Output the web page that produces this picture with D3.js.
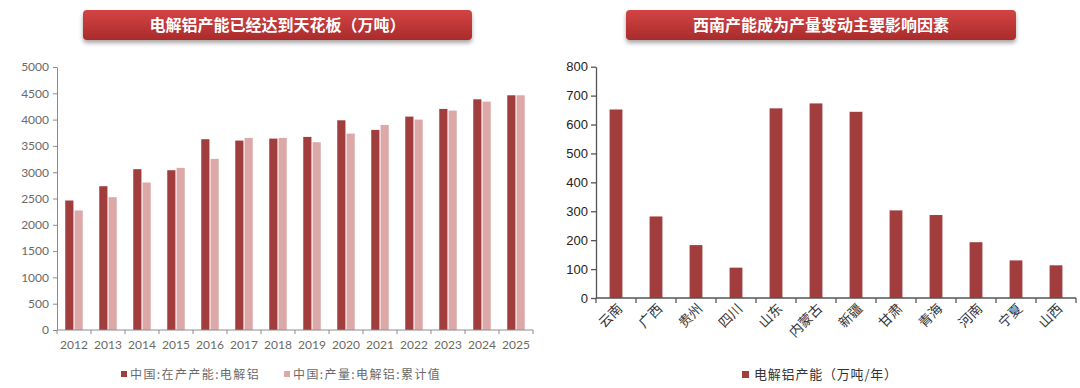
<!DOCTYPE html>
<html>
<head>
<meta charset="utf-8">
<script src="https://cdn.jsdelivr.net/npm/d3@7"></script>
<style>
  body { margin: 0; background: #fff; }
  svg { display: block; }
</style>
</head>
<body>
<div id="chart"></div>
<script>
// left chart data (万吨)
var years = ["2012","2013","2014","2015","2016","2017","2018","2019","2020","2021","2022","2023","2024","2025"];
var capacity = [2462, 2734, 3057, 3038, 3627, 3601, 3639, 3671, 3987, 3804, 4057, 4203, 4386, 4462];
var output   = [2272, 2525, 2804, 3082, 3253, 3652, 3652, 3570, 3734, 3899, 4000, 4171, 4342, 4462];
var leftTicks = [0, 500, 1000, 1500, 2000, 2500, 3000, 3500, 4000, 4500, 5000];
var leftSeries = ["中国:在产产能:电解铝", "中国:产量:电解铝:累计值"];

// right chart data (万吨/年)
var provinces = ["云南","广西","贵州","四川","山东","内蒙古","新疆","甘肃","青海","河南","宁夏","山西"];
var provCap = [652, 282, 183, 105, 656, 673, 644, 303, 287, 193, 130, 113];
var rightTicks = [0, 100, 200, 300, 400, 500, 600, 700, 800];
var rightSeries = "电解铝产能（万吨/年）";

var titles = ["电解铝产能已经达到天花板（万吨）", "西南产能成为产量变动主要影响因素"];

var dark = "#a23d3d", light = "#dca8a8";
var cjk = "'Noto Sans CJK SC', sans-serif";

var svg = d3.select("#chart").append("svg")
    .attr("width", 1080)
    .attr("height", 388);

var defs = svg.append("defs");
var grad = defs.append("linearGradient")
    .attr("id", "bannerGrad")
    .attr("x1", 0).attr("y1", 0).attr("x2", 0).attr("y2", 1);
grad.append("stop").attr("offset", "0%").attr("stop-color", "#d44444");
grad.append("stop").attr("offset", "100%").attr("stop-color", "#a92b2b");
var shadow = defs.append("filter").attr("id", "shadow")
    .attr("x", "-5%").attr("y", "-20%").attr("width", "110%").attr("height", "160%");
shadow.append("feDropShadow")
    .attr("dx", 0).attr("dy", 3).attr("stdDeviation", 2)
    .attr("flood-color", "#000").attr("flood-opacity", 0.35);

// title banners
var banners = [{x: 83, w: 389, t: titles[0]}, {x: 626, w: 390, t: titles[1]}];
banners.forEach(function(b) {
  svg.append("rect")
      .attr("x", b.x).attr("y", 10)
      .attr("width", b.w).attr("height", 30)
      .attr("rx", 4)
      .attr("fill", "url(#bannerGrad)")
      .attr("filter", "url(#shadow)");
  svg.append("text")
      .attr("x", b.x + b.w / 2).attr("y", 25)
      .attr("dy", "0.35em")
      .attr("text-anchor", "middle")
      .style("font-family", cjk)
      .style("font-size", "16px")
      .style("font-weight", "bold")
      .style("fill", "#fff")
      .text(b.t);
});

/////////////// left chart
var x = d3.scaleBand()
    .domain(years)
    .range([57, 533])
    .paddingInner(0.485)
    .paddingOuter(0.2425);

var xs = d3.scaleBand()
    .domain([0, 1])
    .range([0, x.bandwidth()])
    .paddingInner(0.12);

var y = d3.scaleLinear()
    .domain([0, 5000])
    .range([330, 67]);

var gL = svg.append("g");

var yAxisL = d3.axisLeft(y).tickValues(leftTicks).tickFormat(d3.format("d"))
    .tickSize(4).tickSizeOuter(0);
gL.append("g")
    .attr("transform", "translate(57,0)")
    .call(yAxisL)
    .call(function(g) {
      g.select(".domain").attr("stroke", "#8c8c8c");
      g.selectAll(".tick line").attr("stroke", "#8c8c8c");
      g.selectAll("text")
          .attr("x", -8)
          .style("font-family", "Lato, sans-serif")
          .style("font-size", "12px")
          .style("fill", "#6a6a6a");
    });

var cols = years.map(function(d, i) { return {year: d, vals: [capacity[i], output[i]]}; });

var grp = gL.selectAll(".yr")
    .data(cols)
  .enter().append("g")
    .attr("class", "yr")
    .attr("transform", function(d) { return "translate(" + x(d.year) + ",0)"; });

grp.selectAll("rect")
    .data(function(d) { return d.vals; })
  .enter().append("rect")
    .attr("x", function(d, i) { return xs(i); })
    .attr("y", function(d) { return y(d); })
    .attr("width", xs.bandwidth())
    .attr("height", function(d) { return y(0) - y(d); })
    .style("fill", function(d, i) { return i === 0 ? dark : light; });

// x axis line, boundary ticks, labels
var stepL = x.step();
var x0L = x.range()[0];
gL.append("line")
    .attr("x1", x0L).attr("x2", x.range()[1])
    .attr("y1", y(0)).attr("y2", y(0))
    .style("stroke", "#8c8c8c");
gL.selectAll(".xtick")
    .data(d3.range(years.length + 1))
  .enter().append("line")
    .attr("x1", function(i) { return x0L + i * stepL; })
    .attr("x2", function(i) { return x0L + i * stepL; })
    .attr("y1", y(0)).attr("y2", y(0) + 4)
    .style("stroke", "#8c8c8c");
gL.selectAll(".xlab")
    .data(years)
  .enter().append("text")
    .attr("x", function(d, i) { return x0L + (i + 0.5) * stepL; })
    .attr("y", 349)
    .attr("text-anchor", "middle")
    .style("font-family", "Lato, sans-serif")
    .style("font-size", "12px")
    .style("fill", "#6a6a6a")
    .text(function(d) { return d; });

// left legend
var legL = [{x: 121, c: dark, t: leftSeries[0]}, {x: 284, c: light, t: leftSeries[1]}];
legL.forEach(function(l) {
  gL.append("rect")
      .attr("x", l.x).attr("y", 371)
      .attr("width", 6).attr("height", 6)
      .style("fill", l.c);
  gL.append("text")
      .attr("x", l.x + 9).attr("y", 378.5)
      .style("font-family", cjk)
      .style("font-size", "12px")
      .style("letter-spacing", "1.4px")
      .style("fill", "#6a6a6a")
      .text(l.t);
});

/////////////// right chart
var x2 = d3.scaleBand()
    .domain(provinces)
    .range([596, 1076])
    .paddingInner(0.68)
    .paddingOuter(0.34);

var y2 = d3.scaleLinear()
    .domain([0, 800])
    .range([298, 66.7]);

var gR = svg.append("g");

gR.selectAll(".bar")
    .data(provCap)
  .enter().append("rect")
    .attr("class", "bar")
    .attr("x", function(d, i) { return x2(provinces[i]); })
    .attr("y", function(d) { return y2(d); })
    .attr("width", x2.bandwidth())
    .attr("height", function(d) { return y2(0) - y2(d); })
    .style("fill", dark);

var yAxisR = d3.axisLeft(y2).tickValues(rightTicks).tickSize(5).tickSizeOuter(0);
gR.append("g")
    .attr("transform", "translate(596,0)")
    .call(yAxisR)
    .call(function(g) {
      g.select(".domain").attr("stroke", "#555").attr("stroke-width", 1.3);
      g.selectAll(".tick line").attr("stroke", "#555").attr("stroke-width", 1.3);
      g.selectAll("text")
          .attr("x", -8)
          .style("font-family", "'Liberation Sans', Arial, sans-serif")
          .style("font-size", "13px")
          .style("fill", "#222");
    });

var stepR = x2.step();
var x0R = x2.range()[0];
gR.append("line")
    .attr("x1", x0R).attr("x2", x2.range()[1])
    .attr("y1", y2(0)).attr("y2", y2(0))
    .style("stroke", "#555")
    .style("stroke-width", 1.3);
gR.selectAll(".xtick")
    .data(d3.range(provinces.length + 1))
  .enter().append("line")
    .attr("x1", function(i) { return x0R + i * stepR; })
    .attr("x2", function(i) { return x0R + i * stepR; })
    .attr("y1", y2(0)).attr("y2", y2(0) + 5)
    .style("stroke", "#555")
    .style("stroke-width", 1.3);
gR.selectAll(".xlab")
    .data(provinces)
  .enter().append("text")
    .attr("text-anchor", "end")
    .attr("transform", function(d, i) {
      return "translate(" + (x0R + (i + 0.5) * stepR + 4) + ",306) rotate(-45)";
    })
    .attr("dy", "0.35em")
    .style("font-family", cjk)
    .style("font-size", "13.5px")
    .style("fill", "#333")
    .text(function(d) { return d; });

// right legend
gR.append("rect")
    .attr("x", 742).attr("y", 371)
    .attr("width", 7).attr("height", 7)
    .style("fill", dark);
gR.append("text")
    .attr("x", 754).attr("y", 379)
    .style("font-family", cjk)
    .style("font-size", "13px")
    .style("letter-spacing", "0.8px")
    .style("fill", "#333")
    .text(rightSeries);
</script>
</body>
</html>
